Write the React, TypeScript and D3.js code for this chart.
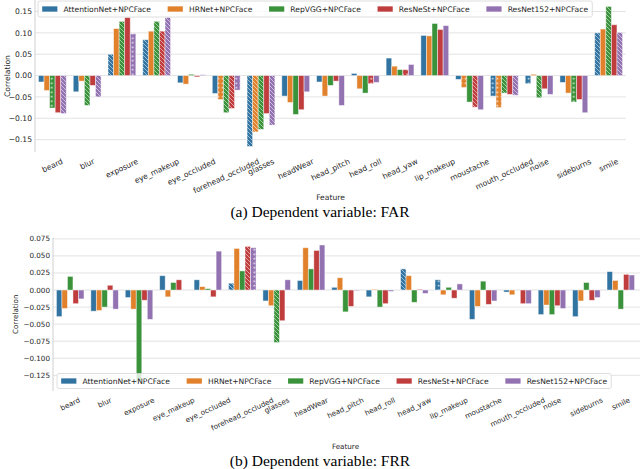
import * as d3 from "d3";

const features = [
  "beard", "blur", "exposure", "eye_makeup", "eye_occluded", "forehead_occluded",
  "glasses", "headWear", "head_pitch", "head_roll", "head_yaw", "lip_makeup",
  "moustache", "mouth_occluded", "noise", "sideburns", "smile",
];
const models = ["AttentionNet+NPCFace", "HRNet+NPCFace", "RepVGG+NPCFace", "ResNeSt+NPCFace", "ResNet152+NPCFace"];
const palette = ["#3274a1", "#e1812c", "#3a923a", "#c03d3e", "#9372b2"];

// (a) FAR correlations, one array per model
const farAttention = [-0.015, -0.038, 0.050, 0.084, -0.017, -0.042, -0.166, -0.048, -0.015, 0.005, 0.041, 0.094, -0.009, -0.048, -0.019, -0.016, 0.100];
const farHRNet = [-0.035, -0.013, 0.110, 0.104, -0.020, -0.056, -0.132, -0.063, -0.048, -0.031, 0.022, 0.093, -0.028, -0.075, 0.003, -0.041, 0.109];
const farRepVGG = [-0.076, -0.070, 0.127, 0.127, 0.003, -0.087, -0.126, -0.091, -0.023, -0.041, 0.014, 0.122, -0.062, -0.041, -0.052, -0.062, 0.162];
const farResNeSt = [-0.087, -0.023, 0.136, 0.104, -0.003, -0.077, -0.089, -0.080, -0.013, -0.019, 0.014, 0.108, -0.074, -0.044, -0.031, -0.056, 0.119];
const farResNet152 = [-0.089, -0.050, 0.098, 0.136, 0.002, -0.034, -0.116, -0.038, -0.070, -0.016, 0.026, 0.117, -0.080, -0.046, -0.044, -0.087, 0.101];

// (b) FRR correlations
const frrAttention = [-0.039, -0.031, -0.011, 0.021, 0.015, 0.010, -0.016, 0.014, 0.004, -0.010, 0.031, 0.015, -0.043, -0.003, -0.036, -0.039, 0.027];
const frrHRNet = [-0.027, -0.030, -0.028, -0.010, 0.005, 0.061, -0.023, 0.062, 0.018, 0.001, 0.021, -0.007, -0.024, -0.007, -0.022, -0.016, 0.014];
const frrRepVGG = [0.020, -0.025, -0.134, 0.011, 0.002, 0.028, -0.077, 0.031, -0.032, -0.025, -0.018, 0.004, 0.013, 0.000, -0.036, 0.011, -0.028];
const frrResNeSt = [-0.020, 0.007, -0.015, 0.015, -0.010, 0.064, -0.045, 0.058, -0.024, -0.020, 0.001, -0.012, -0.021, -0.020, -0.023, -0.015, 0.023];
const frrResNet152 = [-0.013, -0.028, -0.043, 0.000, 0.057, 0.062, 0.015, 0.066, -0.001, -0.002, -0.005, 0.009, -0.016, -0.020, -0.027, -0.011, 0.022];

// hatch per bar: "-" none, "d" diagonal, "o" dots
const farHatch = ["--dd--d------oo-d", "-----od-----oo---", "oddd-dd------ddod", "---d-d---oo-d----", "ddoddod------d--d"];
const frrHatch = ["-----d----do-----", "-----------------", "------d----------", "-----d-----------", "-----o-----------"];

const farTicks = [-0.15, -0.1, -0.05, 0, 0.05, 0.1, 0.15];
const frrTicks = [-0.125, -0.1, -0.075, -0.05, -0.025, 0, 0.025, 0.05, 0.075];

const textColor = "#262626";
const sans = '"DejaVu Sans", sans-serif';

let ctx: any = null;
const measure = (s: string, fs: number) => {
  if (!ctx) ctx = document.createElement("canvas").getContext("2d");
  ctx.font = `${fs}px "DejaVu Sans"`;
  return ctx.measureText(s).width;
};

const Legend = ({ x, y, h, fs }: any) => {
  let cx = x + 0.55 * fs;
  const items = models.map((m, i) => {
    const it = { m, i, px: cx, tx: cx + 2.8 * fs };
    cx = it.tx + measure(m, fs) + 2.2 * fs;
    return it;
  });
  const w = cx - 2.2 * fs + 0.55 * fs - x;
  const cy = y + h / 2;
  return (
    <g>
      <rect x={x} y={y} width={w} height={h} rx={2} fill="white" fillOpacity={0.8} stroke="#d6d6d6" strokeWidth={0.8} />
      {items.map((it) => (
        <g key={it.m}>
          <rect x={it.px} y={cy - 0.35 * fs} width={2 * fs} height={0.7 * fs} fill={palette[it.i]} />
          <text x={it.tx} y={cy + 0.36 * fs} fontSize={fs} fill={textColor} fontFamily={sans}>{it.m}</text>
        </g>
      ))}
    </g>
  );
};

const Panel = (p: any) => {
  const x = d3.scaleBand().domain(features).range([p.left, p.right]);
  const y = d3.scaleLinear().domain(p.yDomain).range([p.bottom, p.top]);
  const bw = x.bandwidth();
  const barW = (bw * 0.8) / models.length;
  const fmt = d3.format(p.fmt);
  const ang = 25;
  const rad = (ang * Math.PI) / 180;
  return (
    <g>
      {p.yTicks.map((t: number) => (
        <g key={t}>
          <line x1={p.left} x2={p.gridRight} y1={y(t)} y2={y(t)} stroke="#e3e3e3" strokeWidth={1} />
          <text x={p.left - 3} y={y(t)} dy="0.35em" textAnchor="end" fontSize={p.fs} fill={textColor} fontFamily={sans}>{fmt(t)}</text>
        </g>
      ))}
      {p.series.map((vals: number[], m: number) =>
        vals.map((v, i) => {
          const bx = (x(features[i]) as number) + bw * 0.1 + m * barW;
          const by = y(Math.max(0, v));
          const bh = Math.abs(y(v) - y(0));
          const h = p.hatch[m][i];
          return (
            <g key={m + "-" + i}>
              <rect x={bx} y={by} width={barW} height={bh} fill={palette[m]} stroke="white" strokeOpacity={0.55} strokeWidth={0.8} />
              {h !== "-" && (
                <rect x={bx} y={by} width={barW} height={bh} fill={h === "d" ? "url(#hatchDiag)" : "url(#hatchDot)"} />
              )}
            </g>
          );
        })
      )}
      <line x1={p.left} x2={p.left} y1={p.top} y2={p.bottom} stroke="#cfcfcf" strokeWidth={1} />
      {features.map((f) => {
        const w = measure(f, p.fs);
        const rh = w * Math.sin(rad) + p.fs * 1.1 * Math.cos(rad);
        const cx = (x(f) as number) + bw / 2;
        const cy = p.labelTop + rh / 2;
        return (
          <text key={f} transform={`translate(${cx},${cy}) rotate(${-ang})`} textAnchor="middle" dy="0.35em" fontSize={p.fs} fill={textColor} fontFamily={sans}>{f}</text>
        );
      })}
      <text transform={`translate(${p.ylabelX},${(p.top + p.bottom) / 2}) rotate(-90)`} textAnchor="middle" dy="0.35em" fontSize={p.fs} fill={textColor} fontFamily={sans}>Correlation</text>
      <text x={(p.left + p.right) / 2} y={p.xlabelY} dy="0.35em" textAnchor="middle" fontSize={p.fs} fill={textColor} fontFamily={sans}>Feature</text>
      <Legend x={p.legendX} y={p.legendY} h={p.legendH} fs={p.legendFs} />
      <text x={320} y={p.captionY} dy="0.35em" textAnchor="middle" fontSize={15.5} fill="black" fontFamily='"Liberation Serif", serif'>{p.caption}</text>
    </g>
  );
};

export default function App() {
  return (
    <div style={{ position: "absolute", left: 0, top: 0 }}>
      <svg width={640} height={469} style={{ display: "block", background: "white" }}>
        <defs>
          <pattern id="hatchDiag" patternUnits="userSpaceOnUse" width={4} height={4}>
            <path d="M-1,-1 L5,5 M-1,3 L1,5 M3,-1 L5,1" stroke="white" strokeOpacity={0.75} strokeWidth={0.7} />
          </pattern>
          <pattern id="hatchDot" patternUnits="userSpaceOnUse" width={4.5} height={4.5}>
            <circle cx={2.25} cy={2.25} r={1} fill="white" fillOpacity={0.8} />
          </pattern>
        </defs>
        <Panel
          series={[farAttention, farHRNet, farRepVGG, farResNeSt, farResNet152]}
          hatch={farHatch}
          left={35} right={626} gridRight={626} top={0} bottom={152}
          yDomain={[-0.179, 0.177]} yTicks={farTicks} fmt=".2f" fs={7.6}
          legendX={38} legendY={1} legendH={16} legendFs={7.6}
          labelTop={157} ylabelX={7} xlabelY={197}
          caption="(a) Dependent variable: FAR" captionY={212}
        />
        <Panel
          series={[frrAttention, frrHRNet, frrRepVGG, frrResNeSt, frrResNet152]}
          hatch={frrHatch}
          left={53} right={638} gridRight={640} top={237.5} bottom={391}
          yDomain={[-0.148, 0.077]} yTicks={frrTicks} fmt=".3f" fs={7.2}
          legendX={57} legendY={373.5} legendH={15} legendFs={7.6}
          labelTop={396} ylabelX={15} xlabelY={446}
          caption="(b) Dependent variable: FRR" captionY={461}
        />
      </svg>
    </div>
  );
}
